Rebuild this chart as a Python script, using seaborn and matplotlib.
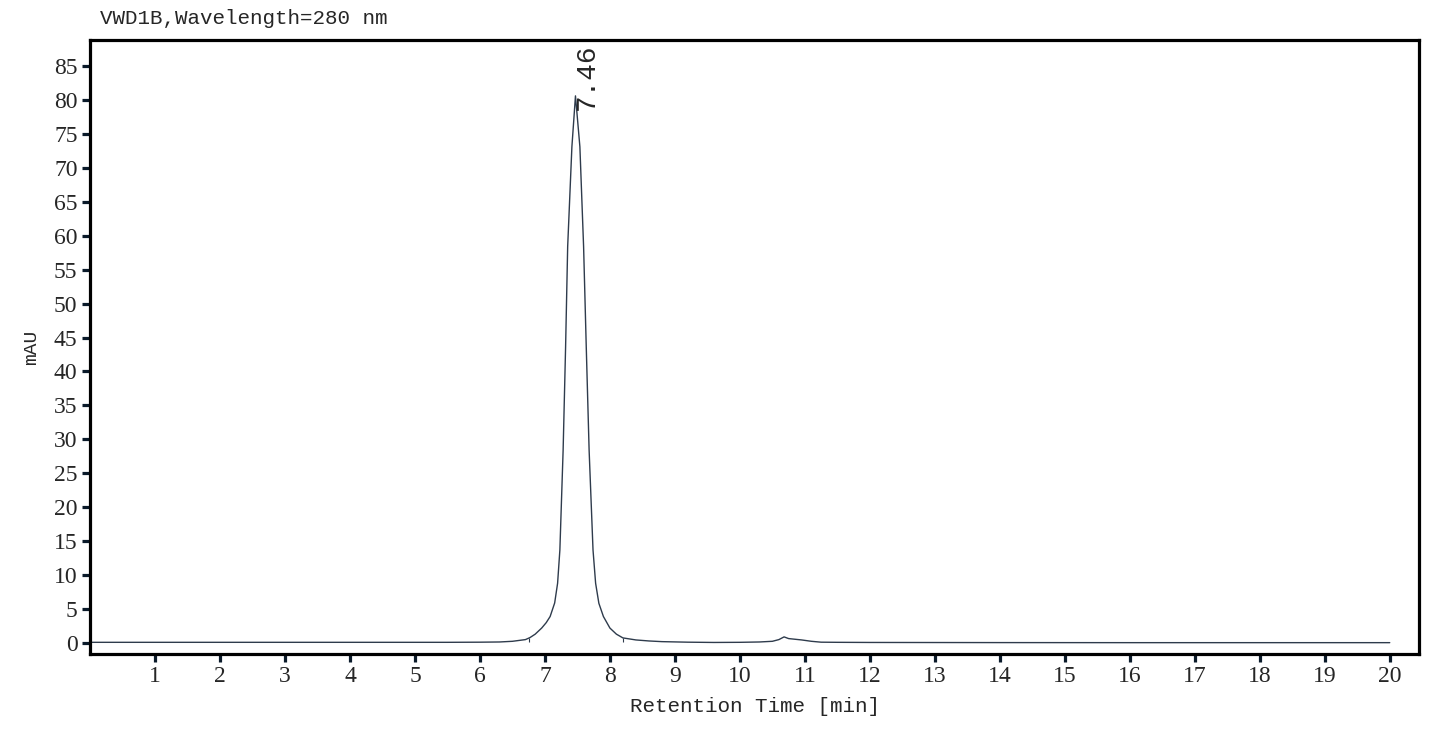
import matplotlib
matplotlib.use("Agg")
import matplotlib.pyplot as plt
import seaborn as sns
import pandas as pd

# Chromatogram trace
time_min = [0.0, 1.0, 2.0, 3.0, 4.0, 5.0, 5.5, 6.0, 6.3, 6.5, 6.7, 6.77, 6.85,
            6.95, 7.02, 7.08, 7.15, 7.195, 7.23, 7.28, 7.318, 7.35, 7.415, 7.47,
            7.538, 7.595, 7.636, 7.68, 7.74, 7.78, 7.83, 7.90, 8.0, 8.1, 8.2,
            8.4, 8.6, 8.8, 9.2, 9.6, 10.0, 10.3, 10.5, 10.6, 10.68, 10.75, 10.85,
            10.95, 11.1, 11.25, 11.5, 12.0, 14.0, 16.0, 18.0, 20.0]
signal_mau = [0.1, 0.1, 0.1, 0.1, 0.1, 0.1, 0.1, 0.12, 0.15, 0.25, 0.5, 0.8, 1.3,
              2.2, 3.0, 3.9, 5.9, 8.8, 13.7, 28.4, 43.6, 58.4, 73.1, 80.6,
              73.1, 58.4, 43.6, 28.4, 13.7, 8.8, 5.85, 3.9, 2.2, 1.3, 0.75,
              0.45, 0.3, 0.2, 0.12, 0.08, 0.1, 0.15, 0.25, 0.5, 0.9, 0.65, 0.55,
              0.45, 0.25, 0.12, 0.1, 0.08, 0.06, 0.05, 0.05, 0.05]

peak_label = "7.46"
peak_time = 7.47
peak_height = 80.6

# integration start / end markers
marker_times = [6.75, 8.2]
marker_tops = [0.75, 0.75]

x_ticks = list(range(1, 21))
y_ticks = list(range(0, 90, 5))

df = pd.DataFrame({"t": time_min, "v": signal_mau})

sns.set_theme(style="white")
plt.rcParams["font.family"] = ["Liberation Serif", "DejaVu Serif"]

fig = plt.figure(figsize=(14.45, 7.34), dpi=100)
ax = fig.add_axes([0.0623, 0.109, 0.9197, 0.8365])

line_color = "#2e3b4c"
sns.lineplot(data=df, x="t", y="v", ax=ax, sort=False, color=line_color,
             linewidth=1.0, estimator=None)
ax.vlines(marker_times, 0.1, marker_tops, color=line_color, linewidth=0.8)

ax.set_xlim(0, 20.45)
ax.set_ylim(-1.62, 88.83)
ax.set_xticks(x_ticks)
ax.set_xticklabels([str(v) for v in x_ticks])
ax.set_yticks(y_ticks)
ax.set_yticklabels([str(v) for v in y_ticks])

for s in ax.spines.values():
    s.set_visible(True)
    s.set_linewidth(2.3)
    s.set_color("black")

ax.tick_params(axis="both", which="major", direction="out", length=6,
               width=2.3, color="#0a1a2a", labelsize=17, pad=3,
               bottom=True, left=True)

mono = ["Liberation Mono", "DejaVu Sans Mono"]
ax.set_xlabel("Retention Time [min]", fontsize=15, family=mono, labelpad=7)
ax.set_ylabel("mAU", fontsize=14, family=mono, labelpad=10)

fig.text(100 / 1445, 1 - 18 / 734, "VWD1B,Wavelength=280 nm", fontsize=15,
         family=mono, ha="left", va="center")

ax.annotate(peak_label, xy=(peak_time, peak_height), xytext=(-1, -10),
            textcoords="offset points", rotation=90, ha="left", va="top",
            fontsize=20, family=mono, rotation_mode="anchor")

fig.savefig("out.png", dpi=100, facecolor="white")
